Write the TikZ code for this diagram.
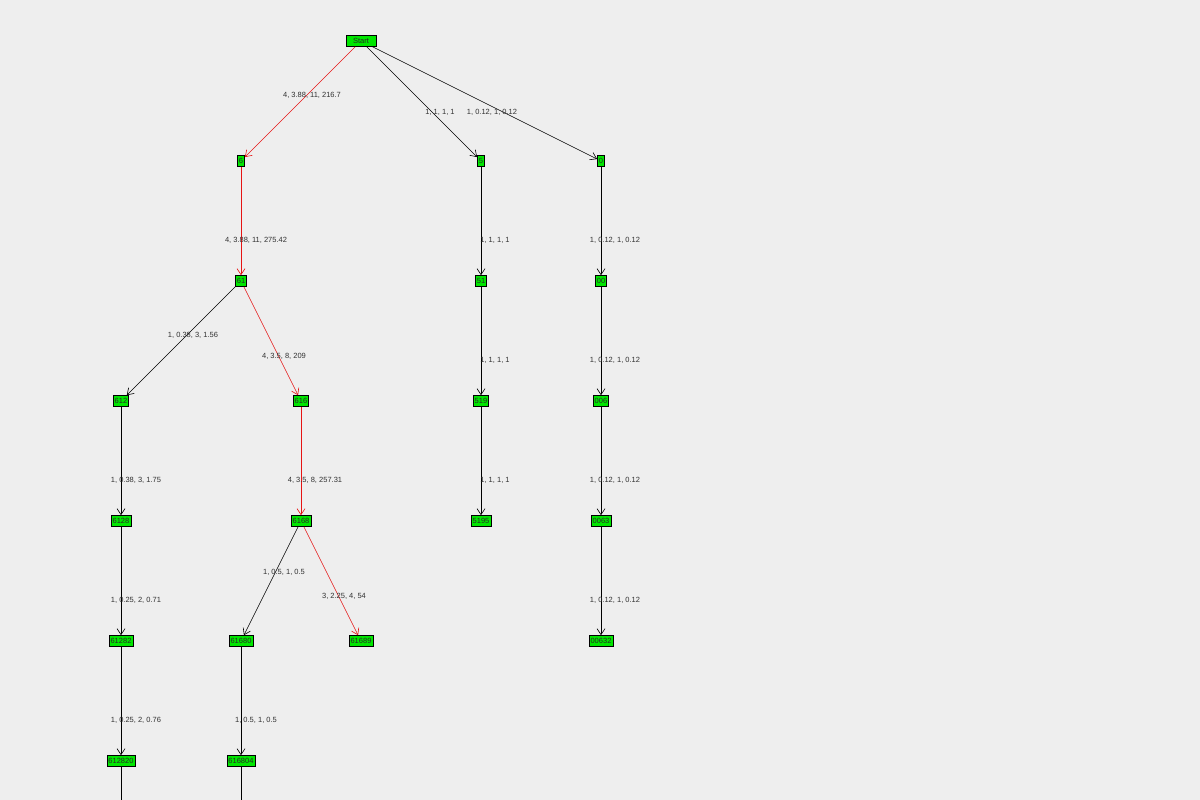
\documentclass[tikz,border=0pt]{standalone}
\usepackage{fontspec}
\setmainfont{Liberation Sans}
\usetikzlibrary{arrows.meta}
\definecolor{bg}{RGB}{238,238,238}
\definecolor{ng}{RGB}{0,230,0}
\definecolor{nt}{RGB}{40,40,40}
\definecolor{lt}{RGB}{50,50,50}
\definecolor{er}{RGB}{230,20,20}
\begin{document}
\begin{tikzpicture}[x=1pt,y=-1pt,
  nd/.style={draw=black,fill=ng,inner xsep=1.5pt,inner ysep=0pt,minimum height=11pt,font=\fontsize{7.5}{8}\selectfont,text=nt,line width=0.6pt},
  ed/.style={draw=black,line width=0.6pt,-{Straight Barb[length=6pt,width=8pt]}},
  redge/.style={draw=er},
  lb/.style={font=\fontsize{7.5}{8}\selectfont,text=lt}]
\fill[bg] (0,0) rectangle (1200,800);
\useasboundingbox (0,0) rectangle (1200,800);
\node[nd,minimum width=30pt] (s) at (361,41) {Start};
\node[nd] (n6) at (241,161) {6};
\node[nd] (n5) at (481,161) {5};
\node[nd] (n0) at (601,161) {0};
\node[nd] (n61) at (241,281) {61};
\node[nd] (n51) at (481,281) {51};
\node[nd] (n00) at (601,281) {00};
\node[nd] (n612) at (121,401) {612};
\node[nd] (n616) at (301,401) {616};
\node[nd] (n519) at (481,401) {519};
\node[nd] (n006) at (601,401) {006};
\node[nd] (n6128) at (121,521) {6128};
\node[nd] (n6168) at (301,521) {6168};
\node[nd] (n5195) at (481,521) {5195};
\node[nd] (n0063) at (601,521) {0063};
\node[nd] (n61282) at (121,641) {61282};
\node[nd] (n61680) at (241,641) {61680};
\node[nd] (n61689) at (361,641) {61689};
\node[nd] (n00632) at (601,641) {00632};
\node[nd] (n612820) at (121,761) {612820};
\node[nd] (n616804) at (241,761) {616804};
\coordinate (e1) at (121,805);
\coordinate (e2) at (241,805);
\draw[ed,redge] (s) -- (n6);
\draw[ed] (s) -- (n5);
\draw[ed] (s) -- (n0);
\draw[ed,redge] (n6) -- (n61);
\draw[ed] (n5) -- (n51);
\draw[ed] (n0) -- (n00);
\draw[ed] (n61) -- (n612);
\draw[ed,redge] (n61) -- (n616);
\draw[ed] (n51) -- (n519);
\draw[ed] (n00) -- (n006);
\draw[ed] (n612) -- (n6128);
\draw[ed,redge] (n616) -- (n6168);
\draw[ed] (n519) -- (n5195);
\draw[ed] (n006) -- (n0063);
\draw[ed] (n6128) -- (n61282);
\draw[ed] (n6168) -- (n61680);
\draw[ed,redge] (n6168) -- (n61689);
\draw[ed] (n0063) -- (n00632);
\draw[ed] (n61282) -- (n612820);
\draw[ed] (n61680) -- (n616804);
\draw[line width=0.6pt] (n612820) -- (e1);
\draw[line width=0.6pt] (n616804) -- (e2);
\node[lb] at (312,95) {4, 3.88, 11, 216.7};
\node[lb] at (440,112) {1, 1, 1, 1};
\node[lb] at (492,112) {1, 0.12, 1, 0.12};
\node[lb] at (256,240) {4, 3.88, 11, 275.42};
\node[lb] at (495,240) {1, 1, 1, 1};
\node[lb] at (615,240) {1, 0.12, 1, 0.12};
\node[lb] at (193,335) {1, 0.38, 3, 1.56};
\node[lb] at (284,356) {4, 3.5, 8, 209};
\node[lb] at (495,360) {1, 1, 1, 1};
\node[lb] at (615,360) {1, 0.12, 1, 0.12};
\node[lb] at (136,480) {1, 0.38, 3, 1.75};
\node[lb] at (315,480) {4, 3.5, 8, 257.31};
\node[lb] at (495,480) {1, 1, 1, 1};
\node[lb] at (615,480) {1, 0.12, 1, 0.12};
\node[lb] at (136,600) {1, 0.25, 2, 0.71};
\node[lb] at (284,572) {1, 0.5, 1, 0.5};
\node[lb] at (344,596) {3, 2.25, 4, 54};
\node[lb] at (615,600) {1, 0.12, 1, 0.12};
\node[lb] at (136,720) {1, 0.25, 2, 0.76};
\node[lb] at (256,720) {1, 0.5, 1, 0.5};
\end{tikzpicture}
\end{document}
